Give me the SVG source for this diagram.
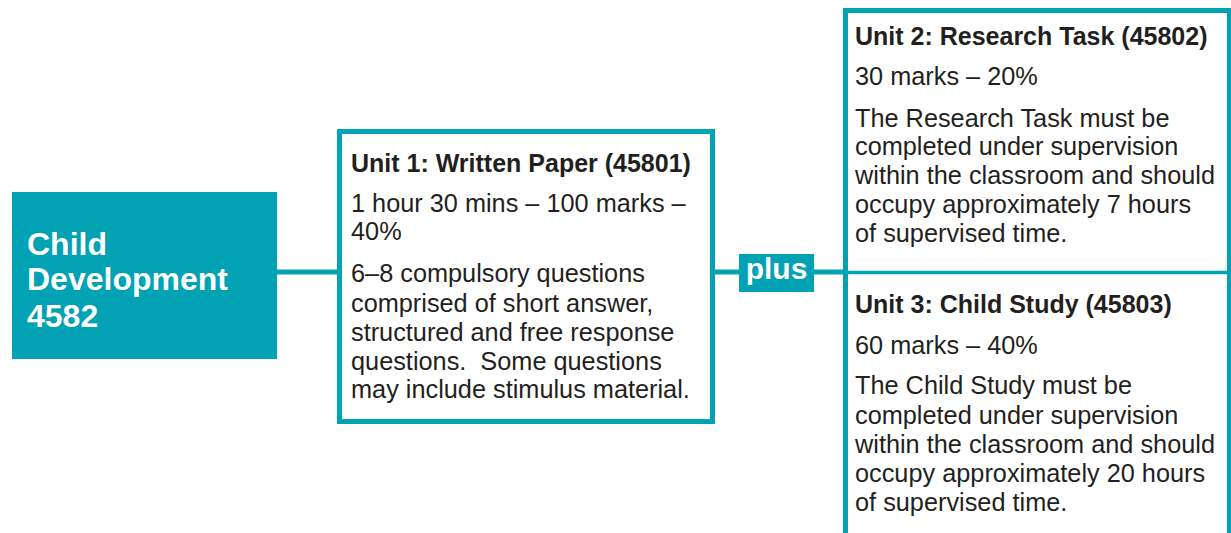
<svg xmlns="http://www.w3.org/2000/svg" width="1231" height="533" viewBox="0 0 1231 533">
<style>
.box{fill:#fff;stroke:#00a2b3;stroke-width:5}
.conn{stroke:#00a2b3;stroke-width:5;fill:none}
.t{font-family:"Liberation Sans",Arial,sans-serif;fill:#231f20;font-size:25.3px}
.b{font-weight:bold;font-size:25px}
.w{fill:#fff;font-weight:bold}
</style>
<rect width="1231" height="533" fill="#fff"/>
<g id="connectors">
<line class="conn" x1="277" y1="272" x2="339" y2="272"/>
<line class="conn" x1="713" y1="272" x2="845" y2="272"/>
</g>
<g id="child-development">
<rect x="12" y="192" width="265" height="167" fill="#00a2b3"/>
<text class="t w" style="font-size:32px"><tspan x="27" y="255">Child</tspan><tspan x="27" y="290">Development</tspan><tspan x="27" y="327">4582</tspan></text>
</g>
<g id="unit1">
<rect class="box" x="339.5" y="131.5" width="373" height="290"/>
<text class="t b" x="351" y="172">Unit 1: Written Paper (45801)</text>
<text class="t"><tspan x="351" y="212">1 hour 30 mins – 100 marks –</tspan><tspan x="351" y="240">40%</tspan><tspan x="351" y="282">6–8 compulsory questions</tspan><tspan x="351" y="312">comprised of short answer,</tspan><tspan x="351" y="341">structured and free response</tspan><tspan x="351" y="370">questions.&#160; Some questions</tspan><tspan x="351" y="398">may include stimulus material.</tspan></text>
</g>
<g id="plus">
<rect x="739" y="254" width="75" height="38" fill="#00a2b3"/>
<text class="t w" x="776.5" y="279" text-anchor="middle" style="font-size:30px">plus</text>
</g>
<g id="units-2-3">
<path class="conn" d="M845.5 545 V10.5 H1229.5 V545"/>
<line x1="845" y1="272.5" x2="1230" y2="272.5" stroke="#00a2b3" stroke-width="3.5"/>
</g>
<g id="unit2">
<text class="t b" x="855" y="45">Unit 2: Research Task (45802)</text>
<text class="t"><tspan x="855" y="85">30 marks – 20%</tspan><tspan x="855" y="127">The Research Task must be</tspan><tspan x="855" y="155">completed under supervision</tspan><tspan x="855" y="184">within the classroom and should</tspan><tspan x="855" y="213">occupy approximately 7 hours</tspan><tspan x="855" y="242">of supervised time.</tspan></text>
</g>
<g id="unit3">
<text class="t b" x="855" y="313">Unit 3: Child Study (45803)</text>
<text class="t"><tspan x="855" y="354">60 marks – 40%</tspan><tspan x="855" y="394">The Child Study must be</tspan><tspan x="855" y="424">completed under supervision</tspan><tspan x="855" y="453">within the classroom and should</tspan><tspan x="855" y="482">occupy approximately 20 hours</tspan><tspan x="855" y="511">of supervised time.</tspan></text>
</g>
</svg>
